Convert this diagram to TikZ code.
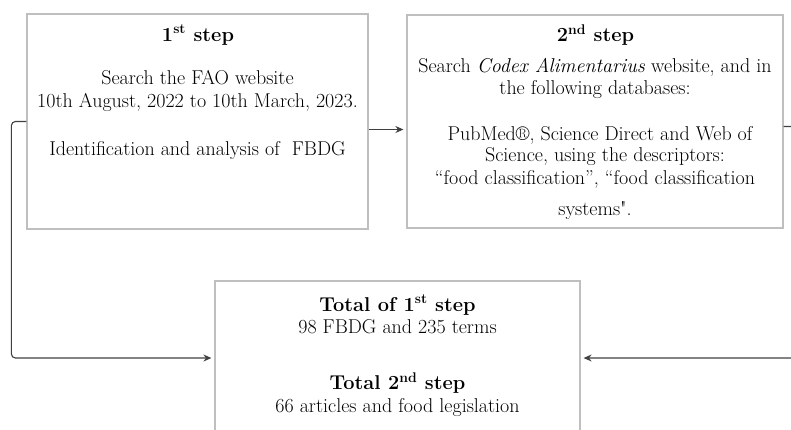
\documentclass[tikz,border=0pt]{standalone}
\usetikzlibrary{arrows.meta,positioning}

\begin{document}
\begin{tikzpicture}[
  x=1pt, y=-1pt,
  font=\fontsize{20}{22.5}\selectfont,
  stepbox/.style={
    draw=black!25,
    line width=1.2pt,
    inner sep=0pt
  },
  txt/.style={align=center, inner sep=0pt},
  arrow/.style={-{Stealth[length=8pt,width=7pt]}, line width=1.1pt, draw=black!75, shorten >=3pt}
]
\useasboundingbox (0,0) rectangle (791,429);

\node[stepbox, minimum width=341pt, minimum height=215pt] (first) at (197.5,121.5) {};
\node[stepbox, minimum width=376pt, minimum height=213pt] (second) at (595,121.5) {};
\node[stepbox, minimum width=365pt, minimum height=154pt] (total) at (397.5,358) {};

% step 1
\node[txt] (firstHead) at (198,35) {\textbf{1\textsuperscript{st} step}};
\node[txt] (firstSearch) at (197.5,91) {Search the FAO website\\10th August, 2022 to 10th March, 2023.};
\node[txt] (firstAim) at (197.5,151) {Identification and analysis of~ FBDG};

% step 2
\node[txt] (secondHead) at (595.5,35) {\textbf{2\textsuperscript{nd} step}};
\node[txt] (secondSearch) at (595,78.5) {Search \textit{Codex Alimentarius} website, and in\\the following databases:};
\node[txt, font=\fontsize{20}{20.5}\selectfont] (secondBases) at (600,146) {PubMed®, Science Direct and Web of\\\hspace*{10pt}Science, using the descriptors:};
\node[txt, font=\fontsize{20}{31}\selectfont] (secondTerms) at (595,195) {“food classification”, “food classification\\systems\textquotedbl.};

% totals
\node[txt] (totalFirst) at (397.5,314.5) {\textbf{Total of 1\textsuperscript{st} step}\\98 FBDG and 235 terms};
\node[txt] (totalSecond) at (397.5,394.5) {\textbf{Total 2\textsuperscript{nd} step}\\66 articles and food legislation};

\draw[arrow] ([yshift=-8pt]first.east) -- ([yshift=-8pt]first.east -| second.west);
\draw[arrow, rounded corners=4pt] (first.west) -- ++(-15,0) |- (total.west);
\draw[arrow, rounded corners=4pt] ([yshift=-5pt]second.east) -- ++(20,0) |- (total.east);

\end{tikzpicture}
\end{document}
